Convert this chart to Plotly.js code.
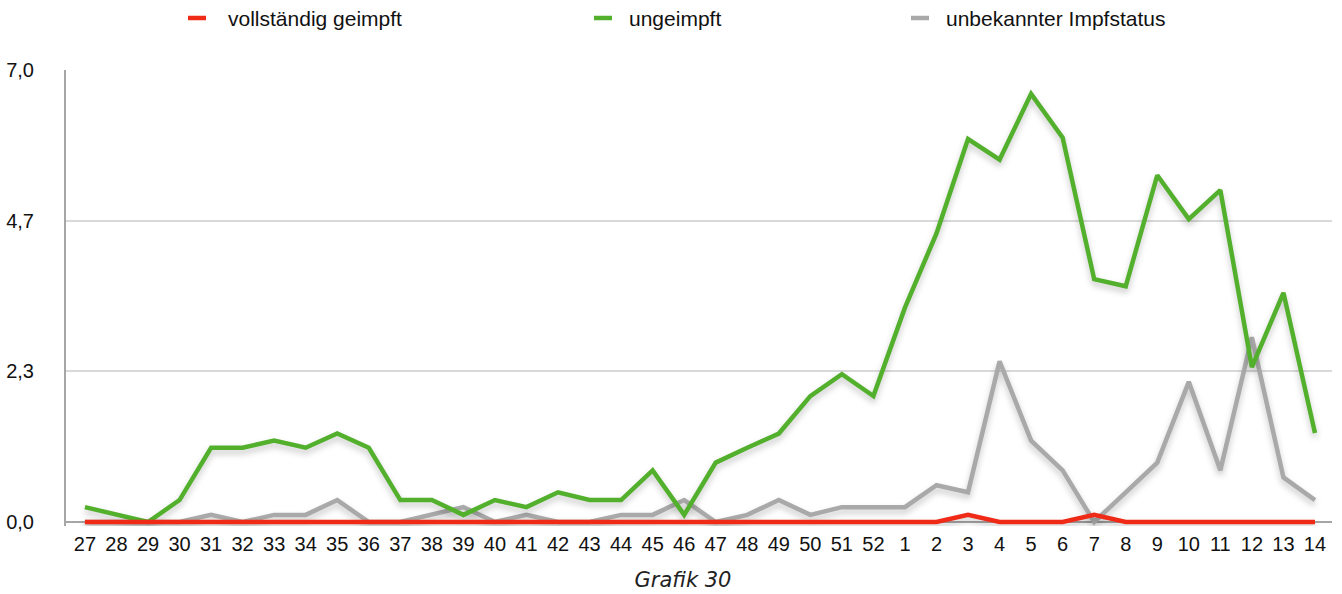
<!DOCTYPE html>
<html>
<head>
<meta charset="utf-8">
<script src="https://cdn.plot.ly/plotly-3.0.1.min.js"></script>
<style>
  html, body { margin:0; padding:0; background:#fff; }
  #chart { width:1342px; height:594px; }
  #chart .scatterlayer .js-line { filter: drop-shadow(0px 4px 3px rgba(0,0,0,0.22)); }
</style>
</head>
<body>
<div id="chart"></div>
<script>
// ---- data ----
const weeks = ['27','28','29','30','31','32','33','34','35','36','37','38','39','40','41','42','43','44','45','46','47','48','49','50','51','52','1','2','3','4','5','6','7','8','9','10','11','12','13','14'];

const seriesNames = ['vollständig geimpft', 'ungeimpft', 'unbekannter Impfstatus'];

const vollstaendig = [0,0,0,0,0,0,0,0,0,0,0,0,0,0,0,0,0,0,0,0,0,0,0,0,0,0,0,0,0.11,0,0,0,0.11,0,0,0,0,0,0,0];

const ungeimpft = [0.23,0.11,0,0.34,1.15,1.15,1.26,1.15,1.37,1.15,0.34,0.34,0.11,0.34,0.23,0.46,0.34,0.34,0.80,0.11,0.92,1.15,1.37,1.95,2.29,1.95,3.32,4.47,5.93,5.61,6.63,5.95,3.76,3.65,5.37,4.69,5.14,2.40,3.55,1.38];

const unbekannt = [0,0,0,0,0.11,0,0.11,0.11,0.34,0,0,0.11,0.23,0,0.11,0,0,0.11,0.11,0.34,0,0.11,0.34,0.11,0.23,0.23,0.23,0.57,0.46,2.49,1.26,0.80,0,0.46,0.92,2.17,0.80,2.86,0.69,0.34];

const yTicks = [0, 7/3, 14/3, 7];
const chartTitle = 'Grafik 30';

// ---- styling ----
const colors = ['#ef2a17', '#53b02d', '#a9a9a9'];
const lineW = 4.5;

const traces = [
  {x: weeks, y: unbekannt, name: seriesNames[2], type:'scatter', mode:'lines',
   line:{color: colors[2], width: lineW}, hoverinfo:'x+y+name'},
  {x: weeks, y: ungeimpft, name: seriesNames[1], type:'scatter', mode:'lines',
   line:{color: colors[1], width: lineW}, hoverinfo:'x+y+name'},
  {x: weeks, y: vollstaendig, name: seriesNames[0], type:'scatter', mode:'lines',
   line:{color: colors[0], width: lineW}, hoverinfo:'x+y+name'}
];

// geometry: 0 sits at y=522px, 7 at y=70px; a small pad below 0 keeps the 0-lines unclipped
const W = 1342, H = 594, mL = 66, mR = 10, mT = 70;
const yPad = 4 * 7 / 452;          // 4 px expressed in data units
const mB = 594 - 522 - 4;          // 68
const pw = W - mL - mR, ph = H - mT - mB;
const px = v => (v - mL) / pw;
const py = v => (H - mB - v) / ph;

const legendItems = [
  {sample:[188,206], text:226, name: seriesNames[0], color: colors[0]},
  {sample:[594,612], text:627, name: seriesNames[1], color: colors[1]},
  {sample:[911,929], text:944, name: seriesNames[2], color: colors[2]}
];
const legendY = 18;

const shapes = legendItems.map(it => ({
  type:'line', xref:'paper', yref:'paper',
  x0: px(it.sample[0]), x1: px(it.sample[1]), y0: py(legendY), y1: py(legendY),
  line:{color: it.color, width: 4.5}
}));
const annotations = legendItems.map(it => ({
  xref:'paper', yref:'paper', x: px(it.text), y: py(legendY),
  xanchor:'left', yanchor:'middle', showarrow:false, text: it.name,
  font:{family:'"Liberation Sans", Arial, sans-serif', size:21, color:'#111'}
}));

const layout = {
  width: W, height: H,
  margin:{l:mL, r:mR, t:mT, b:mB, pad:0},
  paper_bgcolor:'#ffffff', plot_bgcolor:'#ffffff',
  separators:',.',
  showlegend:false,
  font:{family:'"Liberation Sans", Arial, sans-serif', size:20, color:'#111'},
  title:{
    text: chartTitle,
    x: 683 / W, xref:'container', xanchor:'center',
    y: 1 - 580 / H, yref:'container', yanchor:'middle',
    font:{family:'"DejaVu Sans", sans-serif', size:21, style:'italic', color:'#222'}
  },
  xaxis:{
    type:'category', range:[-0.6, 39.54], showgrid:false, zeroline:false,
    showline:false, ticks:'', tickangle:0,
    tickfont:{size:20, color:'#111'}, ticklabelstandoff:4, fixedrange:true,
    layer:'below traces'
  },
  yaxis:{
    range:[-yPad, 7], tickvals: yTicks, tickformat:'.1f', showgrid:true,
    gridcolor:'#d9d9d9', gridwidth:2,
    zeroline:true, zerolinecolor:'#a6a6a6', zerolinewidth:2,
    showline:true, linecolor:'#a6a6a6', linewidth:2, ticks:'', tickfont:{size:20, color:'#111'},
    ticklabelstandoff:26, fixedrange:true, layer:'below traces'
  },
  shapes: shapes,
  annotations: annotations
};

Plotly.newPlot('chart', traces, layout, {displayModeBar:false, staticPlot:true});
</script>
</body>
</html>
